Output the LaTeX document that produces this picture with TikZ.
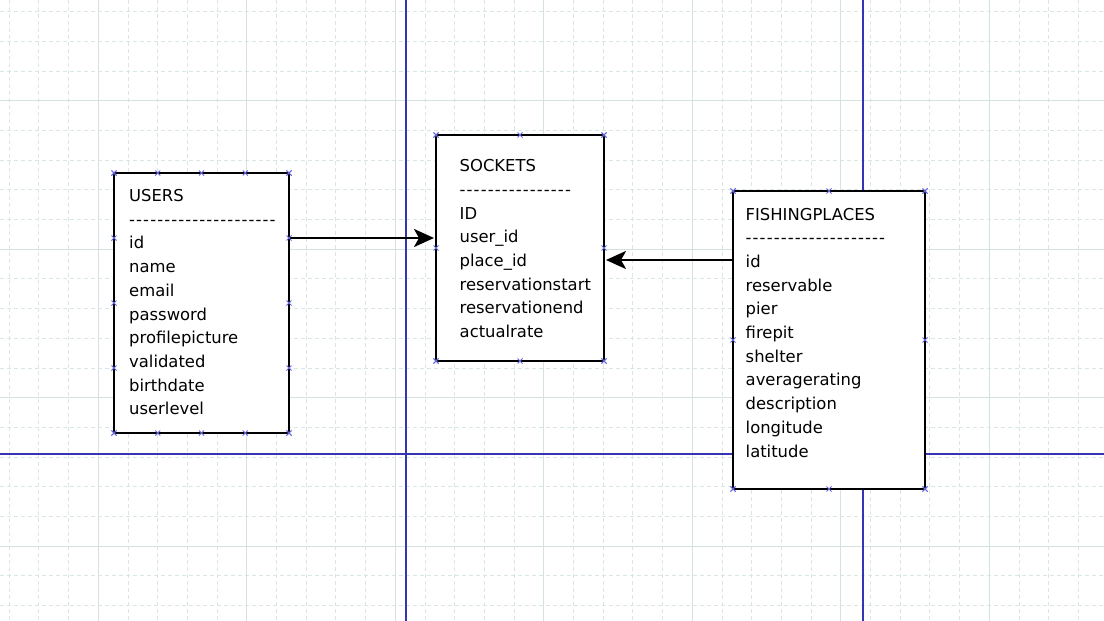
\documentclass[tikz,border=0pt]{standalone}
\usepackage{fontspec}
\setmainfont{DejaVu Sans}
\usepackage{xcolor}
\definecolor{gridline}{HTML}{DAE6E6}
\definecolor{gridmajor}{HTML}{D4E2E2}
\definecolor{guide}{HTML}{3434B4}
\definecolor{handle}{HTML}{6666DD}
\usetikzlibrary{calc}
\usetikzlibrary{arrows.meta}
\tikzstyle{tabella} = [rectangle, draw=black, line width=2.8pt, fill=white, anchor=north west, inner sep=0pt, outer sep=0pt]
\tikzstyle{campo} = [anchor=base west, inner sep=0pt, font=\fontsize{16.4}{23.7}\selectfont]
\tikzstyle{legame} = [line width=2.2pt, shorten >=2pt, -{Stealth[length=20pt, width=18pt, inset=5pt]}]
\tikzstyle{maniglia} = [draw=handle, line width=0.8pt]
\tikzstyle{griglia} = [draw=gridline, line width=1pt, dash pattern=on 4pt off 3pt]
\newcommand{\trattini}[1]{\foreach \k in {1,...,#1}{-\kern1.1pt}}
\newcommand{\croce}[1]{\draw[maniglia] #1 +(-2.5,-2.5) -- +(2.5,2.5) +(-2.5,2.5) -- +(2.5,-2.5);}

\begin{document}
\begin{tikzpicture}[x=1pt, y=-1pt]
\useasboundingbox (0,0) rectangle (1104,621);

% grid
\foreach \k in {0,...,36} \draw[griglia] ({9.2+29.7*\k},0) -- ({9.2+29.7*\k},621);
\foreach \k in {0,...,20} \draw[griglia] (0,{11.6+29.7*\k}) -- (1104,{11.6+29.7*\k});
\foreach \k in {0,...,6} \draw[gridmajor, line width=1.2pt] ({98.3+148.5*\k},0) -- ({98.3+148.5*\k},621);
\foreach \k in {0,...,3} \draw[gridmajor, line width=1.2pt] (0,{100.7+148.5*\k}) -- (1104,{100.7+148.5*\k});

\draw[guide, line width=1.5pt] (406,0) -- (406,621);
\draw[guide, line width=1.5pt] (863,0) -- (863,621);
\draw[guide, line width=1.5pt] (0,454) -- (1104,454);

\node (users) [tabella, minimum width=175pt, minimum height=260pt] at (114,173) {};
\node (sockets) [tabella, minimum width=168pt, minimum height=226pt] at (436,135) {};
\node (fishing) [tabella, minimum width=192pt, minimum height=298pt] at (733,191) {};

\node (users-title) [campo] at (129,201.5) {USERS};
\node (users-line) [campo] at (129,225.2) {\trattini{21}};
\foreach \f [count=\i] in {id,name,email,password,profilepicture,validated,birthdate,userlevel}
  \node (users-\i) [campo] at (129,{225.2+23.7*\i}) {\f};

\node (sockets-title) [campo] at (459.5,171.7) {SOCKETS};
\node (sockets-line) [campo] at (459.5,195.4) {\trattini{16}};
\foreach \f [count=\i] in {ID,user\_id,place\_id,reservationstart,reservationend,actualrate}
  \node (sockets-\i) [campo] at (459.5,{195.4+23.7*\i}) {\f};

\node (fishing-title) [campo] at (745.5,220) {FISHINGPLACES};
\node (fishing-line) [campo] at (745.5,243.7) {\trattini{20}};
\foreach \f [count=\i] in {id,reservable,pier,firepit,shelter,averagerating,description,longitude,latitude}
  \node (fishing-\i) [campo] at (745.5,{243.7+23.7*\i}) {\f};

\coordinate (uid) at ([yshift=-65pt]users.north east);
\draw[legame] (uid) -- (uid -| sockets.west);
\coordinate (pid) at ([yshift=-69pt]fishing.north west);
\draw[legame] (pid) -- (pid -| sockets.east);

\foreach \q in {0,0.25,0.5,0.75,1} {
  \croce{($(users.north west)!\q!(users.north east)$)}
  \croce{($(users.south west)!\q!(users.south east)$)}
  \croce{($(users.north west)!\q!(users.south west)$)}
  \croce{($(users.north east)!\q!(users.south east)$)}
}
\foreach \q in {0,0.5,1} {
  \croce{($(sockets.north west)!\q!(sockets.north east)$)}
  \croce{($(sockets.south west)!\q!(sockets.south east)$)}
  \croce{($(sockets.north west)!\q!(sockets.south west)$)}
  \croce{($(sockets.north east)!\q!(sockets.south east)$)}
  \croce{($(fishing.north west)!\q!(fishing.north east)$)}
  \croce{($(fishing.south west)!\q!(fishing.south east)$)}
  \croce{($(fishing.north west)!\q!(fishing.south west)$)}
  \croce{($(fishing.north east)!\q!(fishing.south east)$)}
}

\end{tikzpicture}
\end{document}
